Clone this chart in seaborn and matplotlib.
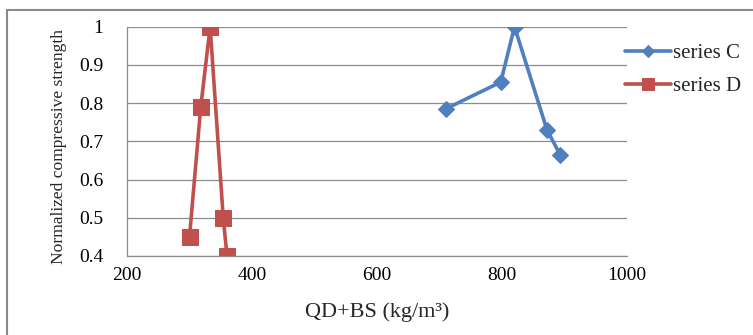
import matplotlib
matplotlib.use("Agg")
import matplotlib.pyplot as plt
import seaborn as sns
import pandas as pd
from matplotlib.patches import Rectangle
from matplotlib.ticker import MultipleLocator

# Data
series_c_x = [710, 798, 820, 872, 893]
series_c_y = [0.785, 0.855, 1.0, 0.73, 0.665]
series_d_x = [300, 318, 333, 354, 360]
series_d_y = [0.45, 0.79, 1.0, 0.50, 0.40]
series_names = ["series C", "series D"]
x_ticks = [200, 400, 600, 800, 1000]
y_ticks = [0.4, 0.5, 0.6, 0.7, 0.8, 0.9, 1.0]
y_tick_labels = ["0.4", "0.5", "0.6", "0.7", "0.8", "0.9", "1"]

df = pd.concat([
    pd.DataFrame({"x": series_c_x, "y": series_c_y, "series": series_names[0]}),
    pd.DataFrame({"x": series_d_x, "y": series_d_y, "series": series_names[1]}),
], ignore_index=True)

sns.set_style("white")
plt.rcParams["font.family"] = ["Liberation Serif", "DejaVu Serif"]

fig = plt.figure(figsize=(7.53, 3.35), dpi=100)
ax = fig.add_axes([127 / 753, 1 - 256 / 335, 500 / 753, 229.3 / 335])

palette = {"series C": "#4F7FBE", "series D": "#C0504D"}
markers = {"series C": "D", "series D": "s"}
sizes = {"series C": 8, "series D": 11}

for name in series_names:
    sub = df[df["series"] == name]
    sns.lineplot(data=sub, x="x", y="y", sort=False, ax=ax, color=palette[name],
                 lw=2.6, marker=markers[name], markersize=sizes[name],
                 markeredgecolor=palette[name], label=name, estimator=None)

ax.set_xlim(200, 1000)
ax.set_ylim(0.4, 1.0)
ax.set_xticks(x_ticks)
ax.set_xticklabels([str(t) for t in x_ticks])
ax.set_yticks(y_ticks)
ax.set_yticklabels(y_tick_labels)
ax.xaxis.set_minor_locator(MultipleLocator(40))
ax.yaxis.set_minor_locator(MultipleLocator(0.02))
ax.tick_params(axis="both", which="both", direction="in", colors="#868686",
               labelcolor="black", labelsize=14)
ax.tick_params(which="major", length=4, width=0.8)
ax.tick_params(which="minor", length=4, width=0.8)
ax.tick_params(axis="x", pad=8)
ax.tick_params(axis="y", pad=17)

ax.grid(axis="y", which="major", color="#8c8c8c", lw=0.9)
ax.set_axisbelow(True)
for s in ["top", "right"]:
    ax.spines[s].set_visible(False)
for s in ["left", "bottom"]:
    ax.spines[s].set_color("#8c8c8c")
    ax.spines[s].set_linewidth(0.9)

ax.set_xlabel("QD+BS (kg/m\u00b3)", fontsize=16, labelpad=13)
ax.set_ylabel("Normalized compressive strength", fontsize=12.6)
ax.yaxis.set_label_coords((67 - 127) / 500, (256 - 147) / 229.3)

ax.get_legend().remove()
handles, labels = ax.get_legend_handles_labels()
leg = fig.legend(handles, labels, loc="upper left", bbox_to_anchor=(606 / 753, 1 - 25 / 335),
                 frameon=False, fontsize=15, handlelength=2.2, handletextpad=0.1,
                 labelspacing=0.65, markerscale=0.8)

fig.patches.append(Rectangle((7 / 753, -0.1), 1.2, 1 - 10 / 335 + 0.1,
                             transform=fig.transFigure, fill=False,
                             edgecolor="#8a8a8a", lw=1.5))

fig.savefig("out.png", dpi=100)
